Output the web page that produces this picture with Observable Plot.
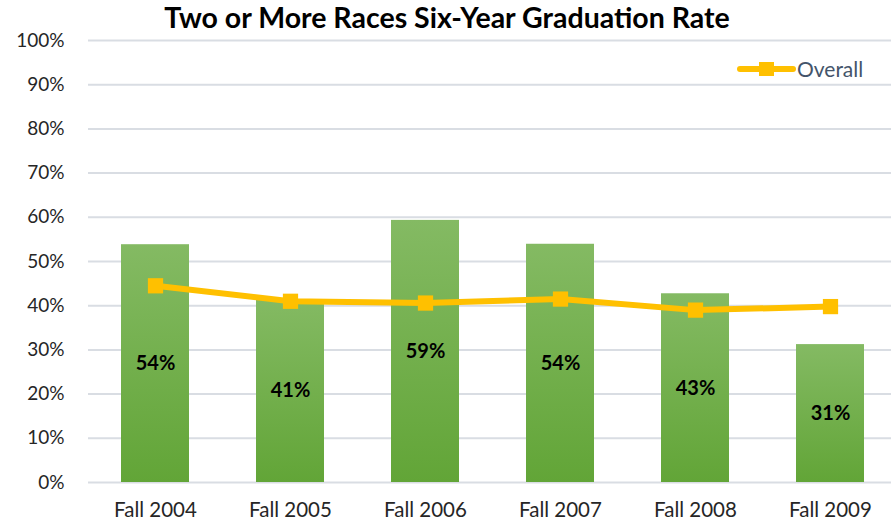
<!DOCTYPE html>
<html><head><meta charset="utf-8">
<script src="https://cdn.jsdelivr.net/npm/d3@7"></script>
<script src="https://cdn.jsdelivr.net/npm/@observablehq/plot@0.6"></script>
<style>
body{margin:0;background:#fff;font-family:Lato,"Open Sans",sans-serif;}
#wrap{position:relative;width:891px;height:526px;overflow:hidden;}
#title{position:absolute;left:0;top:0px;width:894px;text-align:center;font-weight:bold;font-size:28.5px;color:#000;}
#legend{position:absolute;left:737px;top:56px;display:flex;align-items:center;font-size:21px;color:#44546A;}
</style></head><body>
<div id="wrap">
<div id="title">Two or More Races Six-Year Graduation Rate</div>
<div id="legend"><svg width="59" height="20"><line x1="3" y1="10" x2="56" y2="10" stroke="#FFC000" stroke-width="6" stroke-linecap="round"/><rect x="22" y="3" width="15" height="14" fill="#FFC000"/></svg><span style="margin-left:1px">Overall</span></div>
</div>
<script>
const cohorts = ["Fall 2004","Fall 2005","Fall 2006","Fall 2007","Fall 2008","Fall 2009"];
const cohortRate = [0.538, 0.414, 0.593, 0.539, 0.427, 0.312];
const overallRate = [0.445, 0.410, 0.406, 0.415, 0.390, 0.398];
const yTicks = [0,0.1,0.2,0.3,0.4,0.5,0.6,0.7,0.8,0.9,1.0];

const bars = cohorts.map((c,i)=>({cohort:c, v:cohortRate[i]}));
const line = cohorts.map((c,i)=>({cohort:c, v:overallRate[i]}));

const chart = Plot.plot({
  width: 891, height: 526,
  marginTop: 40, marginBottom: 44, marginLeft: 88, marginRight: -7,
  style: {fontFamily: "Lato, 'Open Sans', sans-serif", fontSize: "18px", color: "#262626", background: "#fff"},
  x: {domain: cohorts, paddingInner: 0.496, paddingOuter: 0.248, label: null},
  y: {domain: [0,1], label: null},
  marks: [
    Plot.gridY(yTicks, {stroke: "#D9DDE3", strokeOpacity: 1, strokeWidth: 2}),
    Plot.axisY(yTicks, {tickFormat: d3.format(".0%"), tickSize: 0, tickPadding: 24, fontSize: 19, label: null}),
    Plot.axisX({tickSize: 0, tickPadding: 20, fontSize: 20.5, label: null}),
    Plot.barY(bars, {x: "cohort", y: "v", fill: "url(#barGrad)"}),
    Plot.text(bars, {x: "cohort", y: d => d.v/2, text: d => d3.format(".0%")(d.v), fontWeight: "bold", fontSize: 20, fill: "#000"}),
    Plot.line(line, {x: "cohort", y: "v", stroke: "#FFC000", strokeWidth: 6}),
    Plot.dot(line, {x: "cohort", y: "v", symbol: "square", r: 8.6, fill: "#FFC000"})
  ]
});
const ns = "http://www.w3.org/2000/svg";
const defs = document.createElementNS(ns, "defs");
defs.innerHTML = '<linearGradient id="barGrad" x1="0" y1="0" x2="0" y2="1"><stop offset="0" stop-color="#84BA63"/><stop offset="1" stop-color="#62A537"/></linearGradient>';
chart.insertBefore(defs, chart.firstChild);
chart.style.position = "absolute"; chart.style.left = "0"; chart.style.top = "0";
document.getElementById("wrap").insertBefore(chart, document.getElementById("wrap").firstChild);
</script>
</body></html>
